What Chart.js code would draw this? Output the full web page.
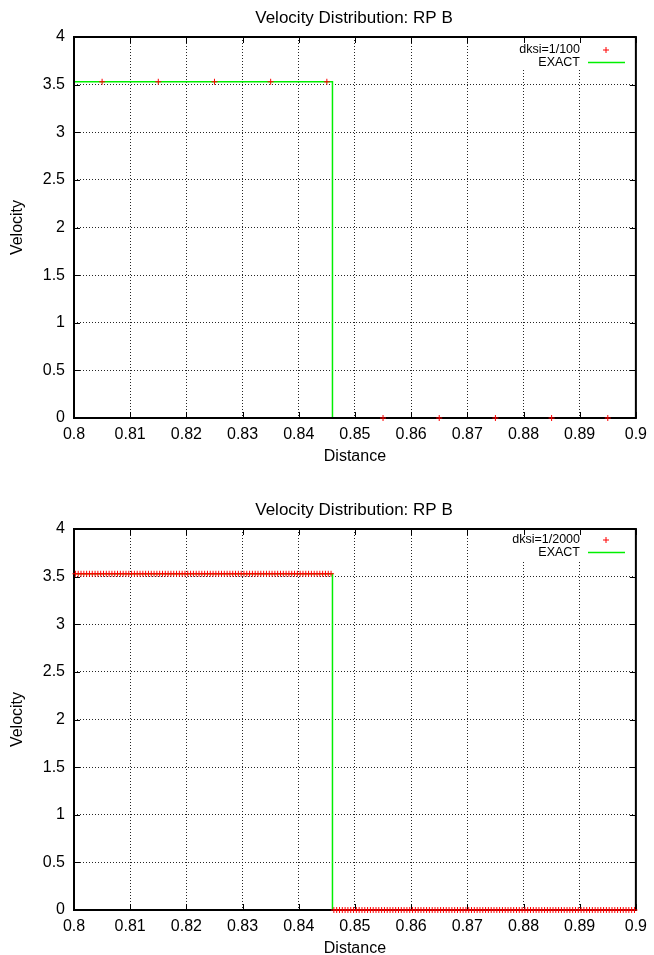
<!DOCTYPE html>
<html>
<head>
<meta charset="utf-8">
<script src="https://cdn.jsdelivr.net/npm/chart.js@4.4.0/dist/chart.umd.min.js"></script>
<style>
html,body{margin:0;padding:0;background:#fff;}
canvas{display:block;}
</style>
</head>
<body>
<canvas id="c1" width="654" height="492"></canvas>
<canvas id="c2" width="654" height="463"></canvas>
<script>
const FONT = "'Liberation Sans', Arial, sans-serif";
const chartTitle = 'Velocity Distribution: RP B';
const xTitle = 'Distance';
const yTitle = 'Velocity';

const xTicks = [0.8, 0.81, 0.82, 0.83, 0.84, 0.85, 0.86, 0.87, 0.88, 0.89, 0.9];
const yTicks = [0, 0.5, 1, 1.5, 2, 2.5, 3, 3.5, 4];

// dksi=1/100 solution (cell centres)
const coarseX = [0.805, 0.815, 0.825, 0.835, 0.845, 0.855, 0.865, 0.875, 0.885, 0.895];
const coarseV = [3.53, 3.53, 3.53, 3.53, 3.53, 0, 0, 0, 0, 0];

// exact solution
const exactX = [0.8, 0.846, 0.846, 0.9];
const exactV = [3.53, 3.53, 0, 0];

// dksi=1/2000 solution: 92 cells at the left state, 108 at the right state
const fineStart = 0.80025, fineStep = 1 / 2000;
const fineStates = [3.53, 0];
const fineCounts = [92, 108];

const fineX = [], fineV = [];
fineStates.forEach((v, k) => {
  for (let i = 0; i < fineCounts[k]; i++) {
    fineX.push(+(fineStart + fineX.length * fineStep).toFixed(5));
    fineV.push(v);
  }
});

Chart.defaults.font.family = FONT;
Chart.defaults.font.size = 16;
Chart.defaults.color = '#000';

const pts = (xs, ys) => xs.map((x, i) => ({x: x, y: ys[i]}));
const fmt = v => String(+(+v).toFixed(2));

// title, key, frame with inward ticks (gnuplot look)
function gnuPlugin(label, legendTop) {
  return {
    id: 'gnu',
    beforeDatasetsDraw(chart) {
      const {ctx, chartArea: a} = chart;
      ctx.save();
      ctx.fillStyle = '#000';
      ctx.font = '17px ' + FONT;
      ctx.textAlign = 'center';
      ctx.textBaseline = 'middle';
      ctx.fillText(chartTitle, 354, 18);

      ctx.font = '12.5px ' + FONT;
      const w = Math.max(ctx.measureText(label).width, ctx.measureText('EXACT').width);
      const tx = 580;
      ctx.fillStyle = '#fff';
      ctx.fillRect(tx - w - 3, a.top + 3, a.right - (tx - w - 3) - 2, 28);
      ctx.fillStyle = '#000';
      ctx.textAlign = 'right';
      ctx.fillText(label, tx, legendTop);
      ctx.fillText('EXACT', tx, legendTop + 12.5);
      ctx.strokeStyle = '#ff0000';
      ctx.lineWidth = 1;
      ctx.beginPath();
      ctx.moveTo(603, legendTop); ctx.lineTo(609, legendTop);
      ctx.moveTo(606, legendTop - 3); ctx.lineTo(606, legendTop + 3);
      ctx.stroke();
      ctx.strokeStyle = '#00f000';
      ctx.lineWidth = 1.5;
      ctx.beginPath();
      ctx.moveTo(588, legendTop + 12.5); ctx.lineTo(625, legendTop + 12.5);
      ctx.stroke();
      ctx.restore();
    },
    afterDatasetDraw(chart, args) {
      if (args.index !== 1) return; // frame goes over the exact line, under the markers
      const {ctx, chartArea: a, scales} = chart;
      ctx.save();
      ctx.strokeStyle = '#000';
      ctx.lineWidth = 1;
      ctx.beginPath();
      xTicks.forEach(v => {
        const x = Math.round(scales.x.getPixelForValue(v)) + 0.5;
        ctx.moveTo(x, a.bottom); ctx.lineTo(x, a.bottom - 6);
        ctx.moveTo(x, a.top); ctx.lineTo(x, a.top + 6);
      });
      yTicks.forEach(v => {
        const y = Math.round(scales.y.getPixelForValue(v)) + 0.5;
        ctx.moveTo(a.left, y); ctx.lineTo(a.left + 6, y);
        ctx.moveTo(a.right, y); ctx.lineTo(a.right - 6, y);
      });
      ctx.stroke();
      ctx.lineWidth = 2;
      ctx.strokeRect(a.left, a.top, a.right - a.left, a.bottom - a.top);
      ctx.restore();
    }
  };
}

function makeChart(id, label, xs, vs, padBottom, legendTop) {
  return new Chart(document.getElementById(id), {
    type: 'scatter',
    data: {
      datasets: [
        {
          label: label,
          data: pts(xs, vs),
          showLine: false,
          pointStyle: 'cross',
          pointRadius: 3,
          pointBorderColor: '#ff0000',
          pointBorderWidth: 1,
          clip: false
        },
        {
          label: 'EXACT',
          data: pts(exactX, exactV),
          showLine: true,
          borderColor: '#00f000',
          borderWidth: 1.5,
          pointRadius: 0,
          tension: 0
        }
      ]
    },
    options: {
      responsive: false,
      animation: false,
      layout: {padding: {top: 37, right: 15, bottom: padBottom, left: 0}},
      plugins: {legend: {display: false}, tooltip: {enabled: false}},
      scales: {
        x: {
          type: 'linear', min: 0.8, max: 0.9,
          afterBuildTicks: s => { s.ticks = xTicks.map(v => ({value: v})); },
          afterFit: s => { s.height = 45; },
          ticks: {padding: 7, callback: fmt, maxRotation: 0, autoSkip: false},
          grid: {color: 'rgba(0,0,0,0.85)', lineWidth: 1, drawTicks: false},
          border: {display: false, dash: [1, 2]},
          title: {display: true, text: xTitle, font: {size: 16}, padding: {top: 0, bottom: -3}}
        },
        y: {
          type: 'linear', min: 0, max: 4,
          afterBuildTicks: s => { s.ticks = yTicks.map(v => ({value: v})); },
          afterFit: s => { s.width = 74; },
          ticks: {padding: 9, callback: fmt},
          grid: {color: 'rgba(0,0,0,0.85)', lineWidth: 1, drawTicks: false},
          border: {display: false, dash: [1, 2]},
          title: {display: true, text: yTitle, font: {size: 16}, padding: {top: 8, bottom: 0}}
        }
      }
    },
    plugins: [gnuPlugin(label, legendTop)]
  });
}

makeChart('c1', 'dksi=1/100', coarseX, coarseV, 29, 50);
makeChart('c2', 'dksi=1/2000', fineX, fineV, 0, 48);
</script>
</body>
</html>
